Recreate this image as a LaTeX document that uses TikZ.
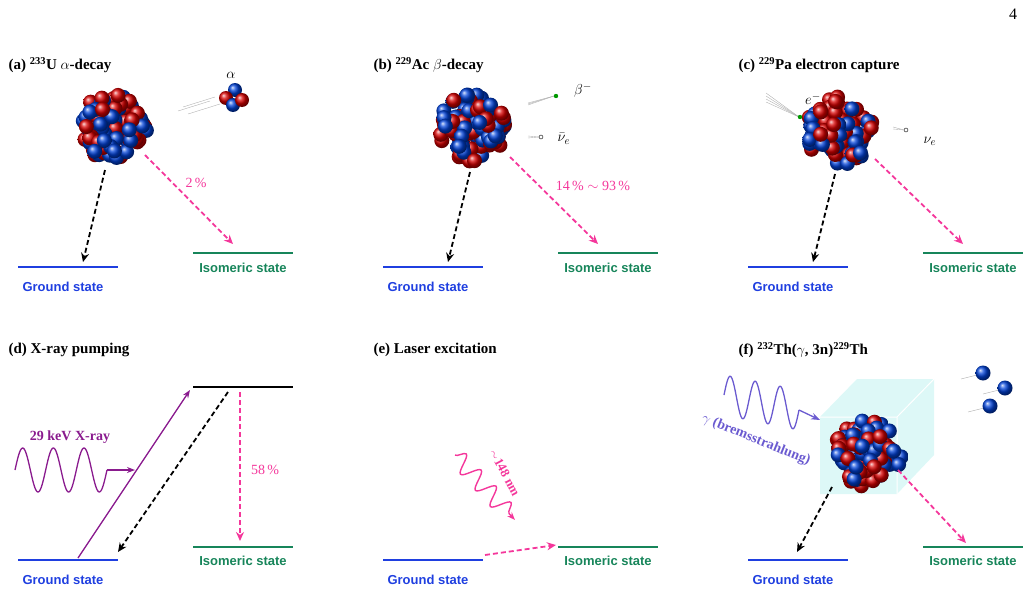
\documentclass[tikz,border=0pt]{standalone}
\usepackage{fontspec}
\setmainfont{Liberation Serif}
\setsansfont{Liberation Sans}
\usetikzlibrary{arrows.meta,decorations.pathmorphing,calc}
\definecolor{gblue}{HTML}{1F3FE0}
\definecolor{igreen}{HTML}{17855A}
\definecolor{pk}{HTML}{F4379B}
\definecolor{xpur}{HTML}{8A1B8E}
\definecolor{gpur}{HTML}{6A5AD0}
\definecolor{cube}{HTML}{DDF8F7}
\tikzset{
 gline/.style={draw=gblue,line width=2.8pt},
 iline/.style={draw=igreen,line width=2.8pt},
 glab/.style={text=gblue,font=\bfseries\fontsize{13}{15}\selectfont\sffamily},
 ilab/.style={text=igreen,font=\bfseries\fontsize{13}{15}\selectfont\sffamily},
 ttl/.style={anchor=west,font=\bfseries\fontsize{15}{17}\selectfont},
 mth/.style={font=\fontsize{15}{17}\selectfont},
 pct/.style={text=pk,font=\fontsize{14}{16}\selectfont},
 bk/.style={line width=1.8pt,-{Stealth[length=9pt,width=8pt]},dash pattern=on 5pt off 3pt},
 pkd/.style={draw=pk,line width=1.8pt,-{Stealth[length=9pt,width=8pt]},dash pattern=on 5pt off 3pt},
 trail/.style={draw=gray!60,line width=0.4pt},
}
\newcommand{\mynuc}[3]{% x y seed
 \pgfmathsetseed{#3}
 \foreach \k in {1,...,100}{
  \pgfmathsetmacro\aa{rnd*360}
  \pgfmathsetmacro\rr{34*sqrt(rnd)}
  \pgfmathsetmacro\cc{rnd}
  \ifdim\cc pt<0.5pt
   \shade[ball color=red!85!black] ($(#1,#2)+(\aa:\rr pt)$) circle[radius=7.5pt];
  \else
   \shade[ball color=blue!70!cyan!85!black] ($(#1,#2)+(\aa:\rr pt)$) circle[radius=7.5pt];
  \fi
 }}
\begin{document}
\begin{tikzpicture}[x=1pt,y=-1pt]
\useasboundingbox (0,0) rectangle (1028,613);
\node[font=\fontsize{16}{18}\selectfont] (pg) at (1013,14) {4};
% titles
\node[ttl] (ta) at (5,65) {(a) \textsuperscript{233}U $\alpha$-decay};
\node[ttl] (tb) at (370,65) {(b) \textsuperscript{229}Ac $\beta$-decay};
\node[ttl] (tc) at (735,65) {(c) \textsuperscript{229}Pa electron capture};
\node[ttl] (td) at (5,350) {(d) X-ray pumping};
\node[ttl] (te) at (370,350) {(e) Laser excitation};
\node[ttl] (tf) at (735,350) {(f) \textsuperscript{232}Th($\gamma$, 3n)\textsuperscript{229}Th};
% levels top row
\foreach \o/\n in {0/a,365/b,730/c}{
 \draw[gline] (18+\o,267) -- (118+\o,267);
 \draw[iline] (193+\o,253) -- (293+\o,253);
 \node[glab] (g\n) at (63+\o,287) {Ground state};
 \node[ilab] (i\n) at (243+\o,268) {Isomeric state};
}
% (a)
\mynuc{113}{127}{11}
\coordinate (a1) at (105,170); \coordinate (a2) at (83,262);
\draw[bk] (a1) -- (a2);
\coordinate (a3) at (145,155); \coordinate (a4) at (233,244);
\draw[pkd] (a3) -- (a4);
\node[pct] (pa) at (196,183) {2\,\%};
\foreach \p in {(178,111),(183,107),(188,114)} \draw[trail] \p -- ++(32,-10);
\shade[ball color=blue!70!cyan!85!black] (235,90) circle[radius=7pt];
\shade[ball color=red!85!black] (226,98) circle[radius=7pt];
\shade[ball color=blue!70!cyan!85!black] (233,105) circle[radius=7pt];
\shade[ball color=red!85!black] (242,100) circle[radius=7pt];
\node[mth] (al) at (231,75) {$\alpha$};
% (b)
\mynuc{473}{128}{23}
\draw[bk] (470,172) -- (448,262);
\draw[pkd] (510,157) -- (598,244);
\node[pct] (pb) at (593,186) {14\,\% $\sim$ 93\,\%};
\foreach \d in {0,2,4} \draw[trail] (528,103+\d/2) -- (554,96);
\fill[green!60!black] (556,96) circle[radius=2.2pt];
\node[mth] (bl) at (583,90) {$\beta^{-}$};
\foreach \d in {0,2} \draw[trail] (528,136+\d) -- (539,137);
\draw (541,137) circle[radius=2pt];
\node[mth] (nl) at (564,139) {$\bar\nu_e$};
% (c)
\mynuc{839}{131}{37}
\draw[bk] (835,174) -- (813,262);
\draw[pkd] (875,159) -- (963,244);
\foreach \d in {0,3,6,9} \draw[trail] (766,93+\d) -- (799,117);
\fill[green!60!black] (800,117) circle[radius=2.2pt];
\node[mth] (el) at (813,99) {$e^{-}$};
\foreach \d in {0,2} \draw[trail] (893,127+\d) -- (904,130);
\draw (906,130) circle[radius=2pt];
\node[mth] (vl) at (930,141) {$\nu_e$};
% bottom levels
\foreach \o/\n in {0/d,365/e,730/f}{
 \draw[gline] (18+\o,560) -- (118+\o,560);
 \draw[iline] (193+\o,547) -- (293+\o,547);
 \node[glab] (g\n) at (63+\o,580) {Ground state};
 \node[ilab] (i\n) at (243+\o,561) {Isomeric state};
}
% (d)
\draw[line width=2.8pt] (193,387) -- (293,387);
\draw[xpur,line width=1.3pt,-{Stealth[length=8pt]}] (78,558) -- (190,390);
\draw[bk] (228,392) -- (118,552);
\draw[pkd] (240,392) -- (240,541);
\node[pct] (pd) at (265,470) {58\,\%};
\draw[xpur,line width=1.3pt,domain=0:92,samples=120] plot ({15+\x},{470-22*sin(\x/92*3*360)});
\draw[xpur,line width=1.3pt,-{Stealth[length=8pt]}] (107,470) -- (135,470);
\node[text=xpur,font=\bfseries\fontsize{14}{16}\selectfont] (xl) at (70,437) {29 keV X-ray};
% (e)
\draw[pkd] (485,555) -- (556,545);
\draw[pk,line width=1.4pt,decorate,decoration={snake,amplitude=9pt,segment length=22pt,post length=8pt},-{Stealth[length=8pt]}] (455,455) -- (515,520);
\node[text=pk,rotate=-62,font=\bfseries\fontsize{13}{15}\selectfont] (nm) at (505,473) {$\sim$148 nm};
% (f)
\fill[cube] (820,417) -- (857,379) -- (934,379) -- (934,455) -- (897,494) -- (820,494) -- cycle;
\draw[white,line width=1pt] (820,417) -- (897,417) -- (934,379) (897,417) -- (897,494);
\mynuc{868}{453}{41}
\draw[gpur,line width=1.3pt,domain=0:75,samples=120] plot ({724+\x},{395+\x*0.2-20*sin(\x/75*3*360)});
\draw[gpur,line width=1.3pt,-{Stealth[length=9pt]}] (799,410) -- (820,420);
\node[text=gpur,rotate=-22,font=\bfseries\fontsize{14}{16}\selectfont] (gl) at (756,440) {$\gamma$ (bremsstrahlung)};
\foreach \x/\y in {983/373,1005/388,990/406}{
 \draw[trail] (\x-22,\y+6) -- (\x-6,\y+2);
 \shade[ball color=blue!70!cyan!85!black] (\x,\y) circle[radius=7.5pt];
}
\draw[bk] (832,487) -- (797,552);
\draw[pkd] (898,470) -- (966,543);
\end{tikzpicture}
\end{document}
